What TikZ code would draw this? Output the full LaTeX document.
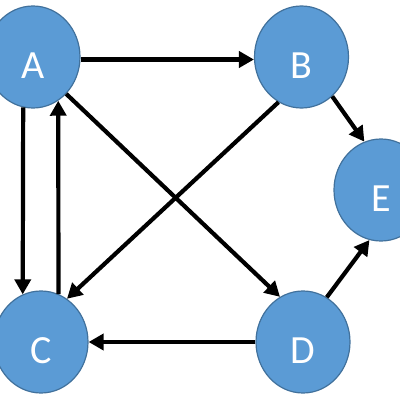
\documentclass[tikz,border=0pt]{standalone}
\usepackage{fontspec}
\setmainfont{Carlito}
\usetikzlibrary{shapes.geometric,arrows.meta}
\definecolor{nodefill}{HTML}{5B9BD5}
\definecolor{nodeline}{HTML}{41719C}
\tikzset{
  vtx/.style={ellipse, fill=nodefill, draw=nodeline, line width=1.2pt,
    minimum width=94pt, minimum height=102pt, inner sep=0pt},
  lbl/.style={text=white, font=\fontsize{40}{40}\selectfont, yshift=-9pt, inner sep=0pt},
  arr/.style={-{Triangle[length=15pt,width=16pt]}, line width=4.2pt, black}
}
\begin{document}
\begin{tikzpicture}[x=1pt,y=-1pt]
\useasboundingbox (0,0) rectangle (400,400);
\node[vtx, label={[lbl]center:A}] (A) at (33,57) {};
\node[vtx, label={[lbl]center:B}] (B) at (301.5,57) {};
\node[vtx, label={[lbl]center:C}] (C) at (41,342) {};
\node[vtx, label={[lbl]center:D}] (D) at (303,342) {};
\node[vtx, label={[lbl]center:E}] (E) at (381,190) {};
\draw[arr] (A.-3) -- (B.183);
\draw[arr] (B.-52) -- (E.109);
\draw[arr] (A.-48) -- (D.117);
\draw[arr] (B.243) -- (C.59);
\draw[arr] (D.180) -- (C.0);
\draw[arr] (D.62) -- (E.257);
\draw[arr] (A.259) -- (C.111);
\draw[arr] (C.70) -- (A.300);
\end{tikzpicture}
\end{document}
